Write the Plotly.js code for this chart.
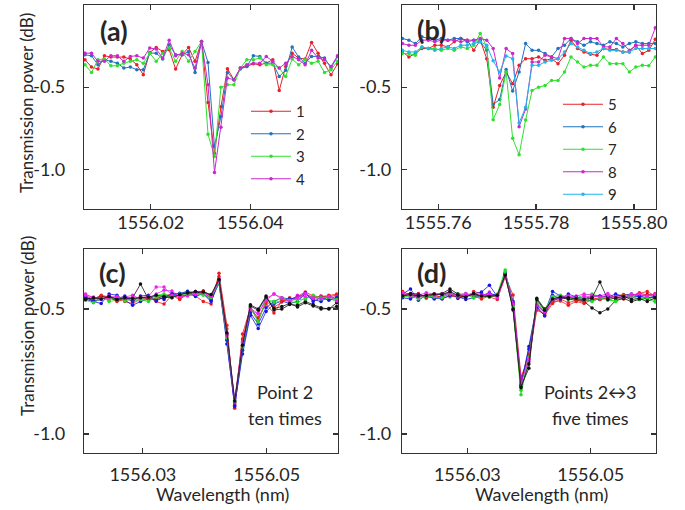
<!DOCTYPE html>
<html><head><meta charset="utf-8">
<script src="https://cdn.plot.ly/plotly-3.0.1.min.js"></script>
<style>html,body{margin:0;padding:0;background:#fff}#chart{width:685px;height:510px}</style>
</head><body><div id="chart"></div>
<script>
// ---------- Panel (a) ----------
const waveA = [1556.0068,1556.0081,1556.0094,1556.0107,1556.0120,1556.0133,1556.0146,1556.0159,1556.0172,1556.0185,
  1556.0198,1556.0211,1556.0224,1556.0237,1556.0250,1556.0263,1556.0276,1556.0289,1556.0302,1556.0315,
  1556.0328,1556.0341,1556.0354,1556.0367,1556.0380,1556.0393,1556.0406,1556.0419,1556.0432,1556.0445,
  1556.0458,1556.0471,1556.0484,1556.0497,1556.0510,1556.0523,1556.0536,1556.0549,1556.0562,1556.0575];
const a1 = [-0.333,-0.378,-0.390,-0.309,-0.317,-0.317,-0.317,-0.329,-0.364,-0.425,-0.289,-0.258,-0.283,-0.272,-0.390,-0.303,-0.258,-0.343,-0.222,-0.593,
  -0.902,-0.620,-0.388,-0.455,-0.384,-0.374,-0.358,-0.364,-0.354,-0.333,-0.520,-0.374,-0.293,-0.323,-0.329,-0.228,-0.293,-0.354,-0.425,-0.358];
const a2 = [-0.303,-0.309,-0.364,-0.333,-0.343,-0.354,-0.384,-0.378,-0.394,-0.394,-0.293,-0.293,-0.329,-0.242,-0.303,-0.303,-0.283,-0.411,-0.222,-0.350,
  -0.862,-0.679,-0.411,-0.455,-0.390,-0.374,-0.309,-0.313,-0.354,-0.354,-0.435,-0.398,-0.256,-0.317,-0.354,-0.313,-0.313,-0.323,-0.384,-0.313];
const a3 = [-0.364,-0.411,-0.333,-0.329,-0.370,-0.370,-0.354,-0.343,-0.333,-0.354,-0.293,-0.343,-0.293,-0.262,-0.343,-0.283,-0.343,-0.283,-0.222,-0.787,
  -0.923,-0.500,-0.486,-0.486,-0.384,-0.333,-0.333,-0.323,-0.364,-0.364,-0.384,-0.435,-0.329,-0.364,-0.333,-0.354,-0.343,-0.411,-0.394,-0.343];
const a4 = [-0.293,-0.293,-0.343,-0.343,-0.309,-0.309,-0.343,-0.313,-0.309,-0.323,-0.262,-0.268,-0.323,-0.215,-0.309,-0.293,-0.303,-0.384,-0.222,-0.486,
  -1.020,-0.744,-0.445,-0.455,-0.384,-0.364,-0.354,-0.354,-0.313,-0.343,-0.384,-0.354,-0.313,-0.333,-0.364,-0.276,-0.323,-0.333,-0.374,-0.309];
const namesA = ["1","2","3","4"];
const colorsA = ["#e8202a","#1f74bc","#30e030","#c828cc"];

// ---------- Panel (b) ----------
const waveB = [1555.75268,1555.75401,1555.75533,1555.75666,1555.75798,1555.75931,1555.76063,1555.76196,1555.76328,1555.76461,
  1555.76593,1555.76726,1555.76858,1555.76991,1555.77123,1555.77256,1555.77388,1555.77521,1555.77653,1555.77786,
  1555.77918,1555.78051,1555.78183,1555.78316,1555.78448,1555.78581,1555.78713,1555.78846,1555.78978,1555.79111,
  1555.79243,1555.79376,1555.79508,1555.79641,1555.79773,1555.79906,1555.80038,1555.80171,1555.80303,1555.80436];
const b5 = [-0.286,-0.316,-0.296,-0.265,-0.265,-0.245,-0.245,-0.255,-0.224,-0.204,-0.214,-0.276,-0.214,-0.327,-0.622,-0.490,-0.408,-0.480,-0.367,-0.327,
  -0.327,-0.316,-0.337,-0.327,-0.357,-0.306,-0.214,-0.265,-0.286,-0.300,-0.306,-0.265,-0.271,-0.271,-0.286,-0.286,-0.245,-0.296,-0.276,-0.208];
const b6 = [-0.204,-0.214,-0.235,-0.194,-0.204,-0.214,-0.204,-0.214,-0.204,-0.204,-0.224,-0.214,-0.224,-0.276,-0.606,-0.576,-0.392,-0.524,-0.408,-0.235,
  -0.276,-0.276,-0.296,-0.316,-0.265,-0.245,-0.204,-0.224,-0.245,-0.224,-0.235,-0.245,-0.224,-0.235,-0.255,-0.235,-0.224,-0.235,-0.235,-0.235];
const b7 = [-0.296,-0.296,-0.306,-0.255,-0.265,-0.265,-0.276,-0.265,-0.276,-0.255,-0.265,-0.245,-0.173,-0.255,-0.698,-0.606,-0.408,-0.812,-0.912,-0.700,
  -0.520,-0.500,-0.490,-0.459,-0.459,-0.408,-0.316,-0.347,-0.378,-0.367,-0.367,-0.316,-0.357,-0.357,-0.357,-0.408,-0.378,-0.367,-0.370,-0.316];
const b8 = [-0.235,-0.245,-0.245,-0.214,-0.214,-0.224,-0.214,-0.214,-0.214,-0.224,-0.214,-0.214,-0.204,-0.214,-0.265,-0.445,-0.265,-0.296,-0.741,-0.633,
  -0.347,-0.347,-0.306,-0.316,-0.327,-0.204,-0.204,-0.235,-0.204,-0.204,-0.204,-0.255,-0.255,-0.204,-0.235,-0.276,-0.245,-0.245,-0.245,-0.139];
const b9 = [-0.276,-0.286,-0.286,-0.255,-0.265,-0.276,-0.265,-0.255,-0.265,-0.245,-0.245,-0.235,-0.224,-0.245,-0.340,-0.408,-0.310,-0.327,-0.718,-0.622,
  -0.367,-0.367,-0.347,-0.337,-0.327,-0.286,-0.235,-0.255,-0.276,-0.296,-0.286,-0.265,-0.276,-0.276,-0.286,-0.286,-0.265,-0.265,-0.265,-0.265];
const namesB = ["5","6","7","8","9"];
const colorsB = ["#e8202a","#1f74bc","#30e030","#c828cc","#22b5e8"];

// ---------- Panel (c): point 2 measured ten times ----------
const waveC = [1556.02075,1556.02202,1556.02328,1556.02455,1556.02582,1556.02709,1556.02835,1556.02962,1556.03089,1556.03215,
  1556.03342,1556.03469,1556.03595,1556.03722,1556.03849,1556.03976,1556.04102,1556.04229,1556.04356,1556.04482,
  1556.04609,1556.04736,1556.04862,1556.04989,1556.05116,1556.05243,1556.05369,1556.05496,1556.05623,1556.05749,
  1556.05876,1556.06003,1556.06129];
const c1 = [-0.450,-0.470,-0.455,-0.462,-0.448,-0.470,-0.478,-0.460,-0.452,-0.470,-0.480,-0.445,-0.462,-0.440,-0.448,-0.470,-0.480,-0.357,-0.565,-0.897,-0.600,-0.495,-0.545,-0.470,-0.492,-0.472,-0.455,-0.463,-0.440,-0.455,-0.448,-0.450,-0.445];
const c2 = [-0.462,-0.470,-0.478,-0.440,-0.445,-0.465,-0.485,-0.470,-0.458,-0.448,-0.462,-0.438,-0.448,-0.445,-0.430,-0.440,-0.470,-0.392,-0.640,-0.885,-0.680,-0.525,-0.578,-0.510,-0.480,-0.468,-0.478,-0.470,-0.438,-0.462,-0.470,-0.448,-0.460];
const c3 = [-0.458,-0.462,-0.450,-0.470,-0.465,-0.455,-0.470,-0.460,-0.455,-0.445,-0.440,-0.450,-0.442,-0.428,-0.435,-0.445,-0.450,-0.400,-0.620,-0.870,-0.660,-0.490,-0.545,-0.465,-0.475,-0.465,-0.470,-0.475,-0.455,-0.452,-0.460,-0.458,-0.470];
const c4 = [-0.440,-0.455,-0.452,-0.448,-0.455,-0.452,-0.445,-0.462,-0.460,-0.440,-0.425,-0.428,-0.452,-0.440,-0.430,-0.435,-0.445,-0.380,-0.600,-0.860,-0.630,-0.505,-0.520,-0.458,-0.440,-0.460,-0.468,-0.445,-0.452,-0.458,-0.448,-0.455,-0.450];
const c5 = [-0.455,-0.462,-0.448,-0.458,-0.465,-0.460,-0.455,-0.400,-0.460,-0.462,-0.455,-0.448,-0.445,-0.432,-0.438,-0.428,-0.448,-0.385,-0.600,-0.875,-0.640,-0.483,-0.500,-0.448,-0.504,-0.500,-0.482,-0.485,-0.470,-0.482,-0.495,-0.500,-0.475];
const c6 = [-0.448,-0.460,-0.445,-0.452,-0.470,-0.462,-0.465,-0.450,-0.462,-0.458,-0.448,-0.440,-0.458,-0.438,-0.445,-0.430,-0.460,-0.370,-0.580,-0.880,-0.620,-0.500,-0.535,-0.480,-0.516,-0.468,-0.462,-0.450,-0.432,-0.448,-0.452,-0.445,-0.440];
const c7 = [-0.452,-0.470,-0.462,-0.450,-0.460,-0.448,-0.470,-0.448,-0.445,-0.468,-0.452,-0.440,-0.437,-0.430,-0.450,-0.438,-0.465,-0.395,-0.625,-0.890,-0.665,-0.515,-0.560,-0.495,-0.470,-0.455,-0.460,-0.455,-0.436,-0.470,-0.455,-0.465,-0.455];
const c8 = [-0.465,-0.475,-0.458,-0.462,-0.450,-0.468,-0.458,-0.462,-0.470,-0.452,-0.445,-0.455,-0.440,-0.442,-0.440,-0.442,-0.455,-0.395,-0.615,-0.865,-0.650,-0.495,-0.552,-0.462,-0.470,-0.455,-0.465,-0.462,-0.460,-0.445,-0.455,-0.452,-0.462];
const c9 = [-0.445,-0.452,-0.460,-0.455,-0.450,-0.458,-0.452,-0.455,-0.450,-0.412,-0.412,-0.445,-0.450,-0.448,-0.440,-0.436,-0.450,-0.388,-0.605,-0.872,-0.635,-0.498,-0.518,-0.465,-0.440,-0.455,-0.470,-0.455,-0.438,-0.455,-0.458,-0.450,-0.468];
const c10 = [-0.462,-0.455,-0.460,-0.450,-0.462,-0.455,-0.458,-0.455,-0.452,-0.445,-0.450,-0.455,-0.442,-0.436,-0.430,-0.432,-0.442,-0.382,-0.595,-0.868,-0.645,-0.488,-0.505,-0.452,-0.498,-0.490,-0.478,-0.492,-0.475,-0.488,-0.500,-0.498,-0.490];

// ---------- Panel (d): points 2<->3 five times ----------
const waveD = [1556.01950,1556.02078,1556.02206,1556.02334,1556.02462,1556.02590,1556.02718,1556.02846,1556.02974,1556.03102,
  1556.03230,1556.03358,1556.03486,1556.03614,1556.03742,1556.03870,1556.03998,1556.04126,1556.04254,1556.04382,
  1556.04510,1556.04638,1556.04766,1556.04894,1556.05022,1556.05150,1556.05278,1556.05406,1556.05534,1556.05662,
  1556.05790,1556.05918,1556.06046];
const d1 = [-0.430,-0.445,-0.455,-0.440,-0.448,-0.452,-0.440,-0.445,-0.455,-0.430,-0.438,-0.452,-0.462,-0.370,-0.444,-0.770,-0.700,-0.505,-0.520,-0.470,-0.468,-0.485,-0.470,-0.478,-0.462,-0.455,-0.450,-0.458,-0.460,-0.445,-0.438,-0.430,-0.448];
const d2 = [-0.440,-0.420,-0.465,-0.445,-0.460,-0.448,-0.435,-0.458,-0.448,-0.440,-0.432,-0.405,-0.450,-0.355,-0.470,-0.805,-0.650,-0.485,-0.515,-0.430,-0.448,-0.452,-0.460,-0.468,-0.465,-0.462,-0.456,-0.448,-0.445,-0.440,-0.450,-0.442,-0.446];
const d3 = [-0.448,-0.455,-0.448,-0.458,-0.445,-0.440,-0.452,-0.440,-0.438,-0.450,-0.455,-0.445,-0.440,-0.344,-0.500,-0.843,-0.690,-0.470,-0.500,-0.455,-0.450,-0.462,-0.455,-0.445,-0.440,-0.450,-0.462,-0.470,-0.455,-0.448,-0.452,-0.460,-0.472];
const d4 = [-0.435,-0.440,-0.445,-0.435,-0.440,-0.445,-0.430,-0.450,-0.438,-0.445,-0.448,-0.432,-0.455,-0.365,-0.475,-0.790,-0.710,-0.480,-0.510,-0.462,-0.458,-0.455,-0.448,-0.440,-0.445,-0.448,-0.438,-0.455,-0.458,-0.440,-0.445,-0.450,-0.438];
const d5 = [-0.445,-0.438,-0.440,-0.452,-0.442,-0.438,-0.420,-0.440,-0.450,-0.440,-0.452,-0.445,-0.448,-0.362,-0.504,-0.810,-0.737,-0.457,-0.500,-0.468,-0.455,-0.460,-0.462,-0.470,-0.496,-0.515,-0.500,-0.465,-0.458,-0.470,-0.462,-0.458,-0.452];
const d6 = [-0.442,-0.450,-0.438,-0.455,-0.440,-0.458,-0.448,-0.452,-0.445,-0.448,-0.460,-0.448,-0.450,-0.372,-0.485,-0.780,-0.680,-0.495,-0.525,-0.478,-0.460,-0.475,-0.465,-0.470,-0.455,-0.462,-0.455,-0.448,-0.442,-0.448,-0.435,-0.445,-0.440];
const d7 = [-0.455,-0.460,-0.442,-0.450,-0.455,-0.460,-0.445,-0.450,-0.462,-0.455,-0.445,-0.438,-0.445,-0.358,-0.478,-0.800,-0.660,-0.490,-0.528,-0.445,-0.460,-0.440,-0.452,-0.458,-0.450,-0.448,-0.452,-0.440,-0.450,-0.455,-0.448,-0.456,-0.448];
const d8 = [-0.450,-0.448,-0.460,-0.448,-0.452,-0.455,-0.440,-0.448,-0.442,-0.455,-0.450,-0.452,-0.445,-0.350,-0.490,-0.825,-0.695,-0.475,-0.505,-0.450,-0.445,-0.452,-0.458,-0.462,-0.470,-0.455,-0.465,-0.468,-0.448,-0.452,-0.460,-0.455,-0.466];
const d9 = [-0.438,-0.445,-0.452,-0.442,-0.445,-0.440,-0.438,-0.445,-0.442,-0.440,-0.445,-0.440,-0.452,-0.368,-0.480,-0.795,-0.700,-0.485,-0.512,-0.465,-0.452,-0.448,-0.455,-0.450,-0.448,-0.452,-0.445,-0.450,-0.452,-0.445,-0.440,-0.448,-0.442];
const d10 = [-0.448,-0.442,-0.448,-0.446,-0.440,-0.442,-0.430,-0.445,-0.452,-0.438,-0.448,-0.450,-0.445,-0.365,-0.500,-0.815,-0.720,-0.462,-0.505,-0.460,-0.452,-0.455,-0.458,-0.462,-0.455,-0.392,-0.462,-0.455,-0.450,-0.462,-0.458,-0.470,-0.455];
const colorsCD = ["#ee1c1c","#1515e6","#22dd22","#ee22ee","#111111","#ee1c1c","#1515e6","#22dd22","#ee22ee","#111111"];

// ---------- Ticks ----------
const tickValsA = [1556.02, 1556.04];
const tickTextA = ["1556.02", "1556.04"];
const tickValsB = [1555.76, 1555.78, 1555.80];
const tickTextB = ["1555.76", "1555.78", "1555.80"];
const tickValsCD = [1556.03, 1556.05];
const tickTextCD = ["1556.03", "1556.05"];
const yTickVals = [-0.5, -1.0];
const yTickText = ["-0.5", "-1.0"];

const FONT = "Lato, 'Open Sans', 'DejaVu Sans', sans-serif";
const TXT = "#262626";

const traces = [];
[a1,a2,a3,a4].forEach((ys,k)=>traces.push({x:waveA,y:ys,name:namesA[k],xaxis:'x',yaxis:'y',type:'scatter',mode:'lines+markers',
  line:{color:colorsA[k],width:1},marker:{color:colorsA[k],size:3.5},legend:'legend'}));
[b5,b6,b7,b8,b9].forEach((ys,k)=>traces.push({x:waveB,y:ys,name:namesB[k],xaxis:'x2',yaxis:'y2',type:'scatter',mode:'lines+markers',
  line:{color:colorsB[k],width:1},marker:{color:colorsB[k],size:3.5},legend:'legend2'}));
[c1,c2,c3,c4,c5,c6,c7,c8,c9,c10].forEach((ys,k)=>traces.push({x:waveC,y:ys,xaxis:'x3',yaxis:'y3',type:'scatter',mode:'lines+markers',
  line:{color:colorsCD[k],width:0.8},marker:{color:colorsCD[k],size:3.5},showlegend:false}));
[d1,d2,d3,d4,d5,d6,d7,d8,d9,d10].forEach((ys,k)=>traces.push({x:waveD,y:ys,xaxis:'x4',yaxis:'y4',type:'scatter',mode:'lines+markers',
  line:{color:colorsCD[k],width:0.8},marker:{color:colorsCD[k],size:3.5},showlegend:false}));

const W=685,H=510;
const px = v=>v/W, py = v=>1-v/H;
function xax(dom, range, tv, tt, anchor, standoff){
  return {domain:dom, range:range, anchor:anchor, tickmode:'array', tickvals:tv, ticktext:tt,
    ticks:'inside', ticklen:5, tickwidth:1.2, tickcolor:'#333', mirror:'ticks', showline:true, linecolor:'#333', linewidth:1.3,
    showgrid:false, zeroline:false, tickfont:{family:FONT,size:18,color:TXT}, ticklabelstandoff:standoff};
}
function yax(dom, range, anchor, standoff){
  return {domain:dom, range:range, anchor:anchor, tickmode:'array', tickvals:yTickVals, ticktext:yTickText,
    ticks:'inside', ticklen:5, tickwidth:1.2, tickcolor:'#333', mirror:'ticks', showline:true, linecolor:'#333', linewidth:1.3,
    showgrid:false, zeroline:false, tickfont:{family:FONT,size:18,color:TXT}, ticklabelstandoff:standoff};
}
const domL=[px(84),px(338)], domR=[px(402),px(656)];
const domT=[py(209),py(5)], domB=[py(453),py(249)];

function ann(text,x,y,size,extra){
  return Object.assign({text:text,x:px(x),y:py(y),xref:'paper',yref:'paper',showarrow:false,xanchor:'center',yanchor:'middle',
    font:{family:FONT,size:size,color:TXT}},extra||{});
}

const layout = {
  width:W,height:H,margin:{l:0,r:0,t:0,b:0},paper_bgcolor:'#fff',plot_bgcolor:'#fff',showlegend:true,
  xaxis: xax(domL,[1556.0066,1556.0576],tickValsA,tickTextA,'y',-3),
  yaxis: yax(domT,[-1.242,0.0],'x',14),
  xaxis2: xax(domR,[1555.7526,1555.8045],tickValsB,tickTextB,'y2',-3),
  yaxis2: yax(domT,[-1.242,0.0],'x2',6),
  xaxis3: xax(domL,[1556.0205,1556.0615],tickValsCD,tickTextCD,'y3',5),
  yaxis3: yax(domB,[-1.076,-0.26],'x3',14),
  xaxis4: xax(domR,[1556.0194,1556.0606],tickValsCD,tickTextCD,'y4',5),
  yaxis4: yax(domB,[-1.076,-0.26],'x4',6),
  legend:{x:px(246),y:py(95),xanchor:'left',yanchor:'top',bgcolor:'rgba(0,0,0,0)',font:{family:FONT,size:15,color:TXT},tracegroupgap:0,itemwidth:40},
  legend2:{x:px(558),y:py(88),xanchor:'left',yanchor:'top',bgcolor:'rgba(0,0,0,0)',font:{family:FONT,size:15,color:TXT},tracegroupgap:0,itemwidth:40},
  annotations:[
    ann('<b>(a)</b>',114,30,27), ann('<b>(b)</b>',431,29,27), ann('<b>(c)</b>',112,272,27), ann('<b>(d)</b>',431,272,27),
    ann('Point 2',285,392,18), ann('ten times',285,418,18),
    ann('Points 2\u21943',590,392,18), ann('five times',590,418,18),
    ann('Wavelength (nm)',222,494,18), ann('Wavelength (nm)',541,494,18),
    ann('Transmission power (dB)',27,103,17,{textangle:-90}), ann('Transmission power (dB)',27,326,17,{textangle:-90})
  ]
};
Plotly.newPlot('chart',traces,layout,{staticPlot:true,displayModeBar:false});
</script></body></html>
